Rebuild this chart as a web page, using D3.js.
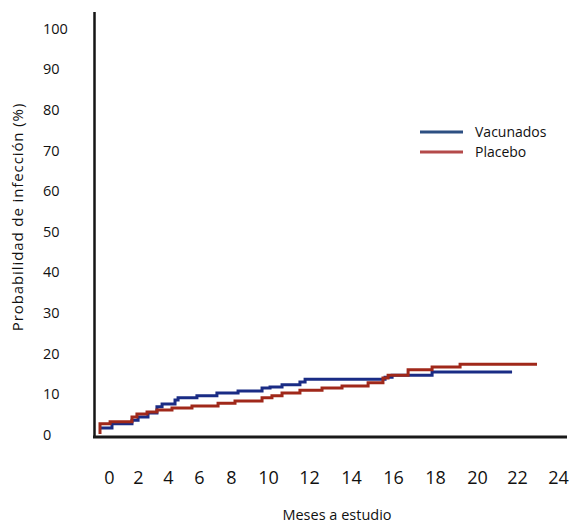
<!DOCTYPE html>
<html>
<head>
<meta charset="utf-8">
<script src="https://cdn.jsdelivr.net/npm/d3@7/dist/d3.min.js"></script>
<style>
  html, body { margin: 0; padding: 0; background: #fff; }
  svg { display: block; font-family: "Open Sans", "DejaVu Sans", sans-serif; }
</style>
</head>
<body>
<svg id="chart" width="571" height="525"></svg>
<script>
// ---- Data ----
const seriesNames = ["Vacunados", "Placebo"];
// Months of each step (step-after), and cumulative probability of infection (%)
const vacunadosMonths = [0, 0.63, 1.68, 2.0, 2.52, 2.99, 3.26, 3.94, 4.1, 5.09, 6.14, 7.25, 8.51, 8.93, 9.56, 10.5, 10.77, 14.97, 15.34, 17.44, 21.64];
const vacunadosValues = [1.5, 2.5, 3.4, 4.2, 5.2, 6.7, 7.4, 8.4, 8.9, 9.4, 10.1, 10.6, 11.3, 11.6, 12.1, 12.8, 13.5, 14.0, 14.5, 15.3, 15.3];
const placeboMonths = [0, 0, 0.53, 1.68, 1.94, 2.47, 2.99, 3.78, 4.83, 6.2, 7.09, 8.51, 9.03, 9.56, 10.5, 11.66, 12.71, 14.08, 14.86, 15.13, 16.18, 17.44, 18.91, 22.95];
const placeboValues = [0, 2.5, 3.0, 4.2, 4.9, 5.4, 5.9, 6.4, 6.9, 7.6, 8.1, 8.9, 9.4, 10.1, 10.8, 11.3, 11.8, 12.6, 13.8, 14.5, 15.8, 16.5, 17.2, 17.2];
const xTickLabels = [0, 2, 4, 6, 8, 10, 12, 14, 16, 18, 20, 22, 24];
const yTickLabels = [0, 10, 20, 30, 40, 50, 60, 70, 80, 90, 100];
const xTitle = "Meses a estudio";
const yTitle = "Probabilidad de infección (%)";

// ---- Layout ----
const svg = d3.select("#chart");
const colors = { line: ["#1a2c85", "#a0281a"], legend: ["#2d4f82", "#b44a4a"] };

const x = d3.scaleLinear().domain([0, 24]).range([100, 557]);
// tick labels in the reference were typed unevenly; a separate polylinear scale places them
const xLabelScale = d3.scaleLinear().domain(xTickLabels)
  .range([109, 138, 168, 199, 231, 268, 309, 351, 393, 435, 477, 517, 558]);
const y = d3.scaleLinear().domain([0, 100]).range([434, 28]);

// axis lines
svg.append("line").attr("x1", 94.5).attr("x2", 94.5).attr("y1", 12).attr("y2", 438)
  .attr("stroke", "#151515").attr("stroke-width", 2.5);
svg.append("line").attr("x1", 93).attr("x2", 567).attr("y1", 437).attr("y2", 437)
  .attr("stroke", "#1a1a1a").attr("stroke-width", 3);

// y tick labels
const yAxis = d3.axisLeft(y).tickValues(yTickLabels).tickSize(0).tickFormat(d3.format("d"));
const gy = svg.append("g").attr("transform", "translate(43,0)").call(yAxis);
gy.select(".domain").remove();
gy.selectAll("text").attr("x", 0).attr("dy", "0.36em").attr("text-anchor", "start")
  .attr("font-size", 14.5).attr("fill", "#111").attr("font-family", "'Open Sans', sans-serif");

// x tick labels
const xAxis = d3.axisBottom(xLabelScale).tickValues(xTickLabels).tickSize(0).tickFormat(d3.format("d"));
const gx = svg.append("g").attr("transform", "translate(0,471)").call(xAxis);
gx.select(".domain").remove();
gx.selectAll("text").attr("y", 0).attr("dy", "0.71em")
  .attr("font-size", 18).attr("fill", "#111").attr("font-family", "'Open Sans', sans-serif");

// titles
svg.append("text").attr("x", 337).attr("y", 520).attr("text-anchor", "middle")
  .attr("font-size", 14.5).attr("fill", "#111").text(xTitle);
svg.append("text").attr("transform", "translate(23,217) rotate(-90)").attr("text-anchor", "middle")
  .attr("font-size", 15).attr("letter-spacing", 0.9).attr("fill", "#111").text(yTitle);

// curves
const series = [
  { name: seriesNames[0], months: vacunadosMonths, values: vacunadosValues },
  { name: seriesNames[1], months: placeboMonths, values: placeboValues }
];
const line = d3.line().x(d => x(d[0])).y(d => y(d[1])).curve(d3.curveStepAfter);
[0, 1].forEach(i => {
  const s = series[i];
  const pts = s.months.map((m, j) => [m, s.values[j]]);
  svg.append("path").attr("d", line(pts)).attr("fill", "none")
    .attr("stroke", colors.line[i]).attr("stroke-width", 3)
    .attr("stroke-linejoin", "miter").attr("stroke-linecap", "butt");
});

// legend
const legendY = d3.scalePoint().domain(seriesNames).range([132, 152]);
seriesNames.forEach((n, i) => {
  svg.append("line").attr("x1", 420).attr("x2", 463).attr("y1", legendY(n)).attr("y2", legendY(n))
    .attr("stroke", colors.legend[i]).attr("stroke-width", 3);
  svg.append("text").attr("x", 475).attr("y", legendY(n)).attr("dy", "0.36em")
    .attr("font-size", 14).attr("fill", "#111").text(n);
});
</script>
</body>
</html>
